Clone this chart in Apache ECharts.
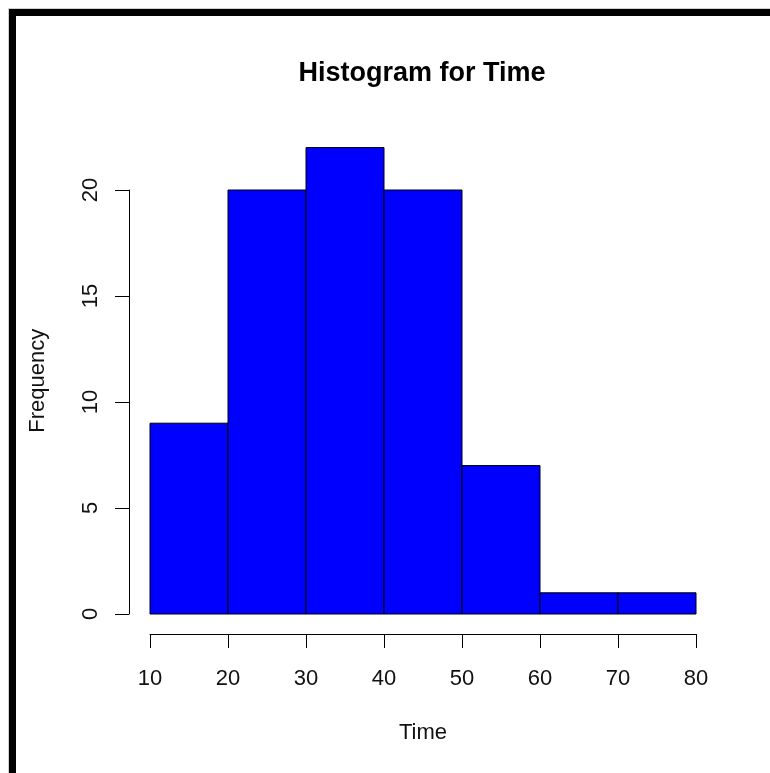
<!DOCTYPE html>
<html>
<head>
<meta charset="utf-8">
<script src="https://cdn.jsdelivr.net/npm/echarts@6/dist/echarts.min.js"></script>
<style>
html,body{margin:0;padding:0;background:#fff;}
#chart{width:770px;height:773px;}
</style>
</head>
<body>
<div id="chart"></div>
<script>
// Histogram bins and counts
const binStarts = [10, 20, 30, 40, 50, 60, 70];
const binEnds   = [20, 30, 40, 50, 60, 70, 80];
const counts    = [9, 20, 22, 20, 7, 1, 1];
const xTicks    = [10, 20, 30, 40, 50, 60, 70, 80];
const yTicks    = [0, 5, 10, 15, 20];
const titleText = 'Histogram for Time';
const xLabel    = 'Time';
const yLabel    = 'Frequency';

const FONT = 'Arial, "Liberation Sans", sans-serif';
const chart = echarts.init(document.getElementById('chart'), null, {renderer: 'canvas'});

const data = binStarts.map((s, i) => [s, binEnds[i], counts[i]]);
const xMin = xTicks[0], xMax = xTicks[xTicks.length - 1];

chart.setOption({
  animation: false,
  backgroundColor: '#fff',
  graphic: [
    {type: 'rect', shape: {x: 8, y: 8, width: 762, height: 1}, style: {fill: '#d0d0d0'}, silent: true},
    {type: 'rect', shape: {x: 8, y: 8, width: 1, height: 765}, style: {fill: '#d0d0d0'}, silent: true},
    {type: 'rect', shape: {x: 9, y: 9, width: 761, height: 7}, style: {fill: '#000'}, silent: true},
    {type: 'rect', shape: {x: 9, y: 9, width: 7, height: 764}, style: {fill: '#000'}, silent: true},
    {type: 'text', x: 422, y: 74, silent: true,
     style: {text: titleText, font: 'bold 27px ' + FONT, fill: '#000', align: 'center', verticalAlign: 'middle'}}
  ],
  grid: [
    {left: 150, right: 74, top: 147.6, bottom: 159},
    {left: 150, right: 74, top: 190, bottom: 159},
    {left: 150, right: 74, top: 600, bottom: 139}
  ],
  xAxis: [
    {gridIndex: 0, type: 'value', min: xMin, max: xMax, show: false},
    {gridIndex: 1, type: 'value', min: xMin, max: xMax, show: false},
    {
      gridIndex: 2, type: 'value', min: xMin, max: xMax, interval: 10, position: 'bottom',
      axisLine: {show: true, lineStyle: {color: '#000', width: 1}},
      axisTick: {show: true, length: 14, inside: false, lineStyle: {color: '#000', width: 1}},
      axisLabel: {show: true, margin: 34, fontSize: 22, fontFamily: FONT, color: '#111',
                  showMinLabel: true, showMaxLabel: true},
      splitLine: {show: false},
      name: xLabel, nameLocation: 'middle', nameGap: 88,
      nameTextStyle: {fontSize: 22, fontFamily: FONT, color: '#111'}
    }
  ],
  yAxis: [
    {
      gridIndex: 0, type: 'value', min: 0, max: 22,
      axisLine: {show: false}, axisTick: {show: false}, axisLabel: {show: false},
      splitLine: {show: false},
      name: yLabel, nameLocation: 'middle', nameGap: 101, nameRotate: 90,
      nameTextStyle: {fontSize: 22, fontFamily: FONT, color: '#111'}
    },
    {
      gridIndex: 1, type: 'value', min: yTicks[0], max: yTicks[yTicks.length - 1], interval: 5,
      offset: 21, position: 'left',
      axisLine: {show: true, lineStyle: {color: '#000', width: 1}},
      axisTick: {show: true, length: 14, inside: false, lineStyle: {color: '#000', width: 1}},
      axisLabel: {show: true, rotate: 90, margin: 27, fontSize: 22, fontFamily: FONT, color: '#111',
                  showMinLabel: true, showMaxLabel: true},
      splitLine: {show: false}
    },
    {gridIndex: 2, type: 'value', min: 0, max: 1, show: false}
  ],
  series: [{
    type: 'custom',
    xAxisIndex: 0, yAxisIndex: 0,
    data: data,
    encode: {x: [0, 1], y: 2},
    renderItem: function (params, api) {
      const p0 = api.coord([api.value(0), 0]);
      const p1 = api.coord([api.value(1), api.value(2)]);
      return {
        type: 'rect',
        shape: {x: p0[0], y: p1[1], width: p1[0] - p0[0], height: p0[1] - p1[1]},
        style: {fill: '#0000ff', stroke: '#000', lineWidth: 1}
      };
    }
  }]
});
</script>
</body>
</html>
